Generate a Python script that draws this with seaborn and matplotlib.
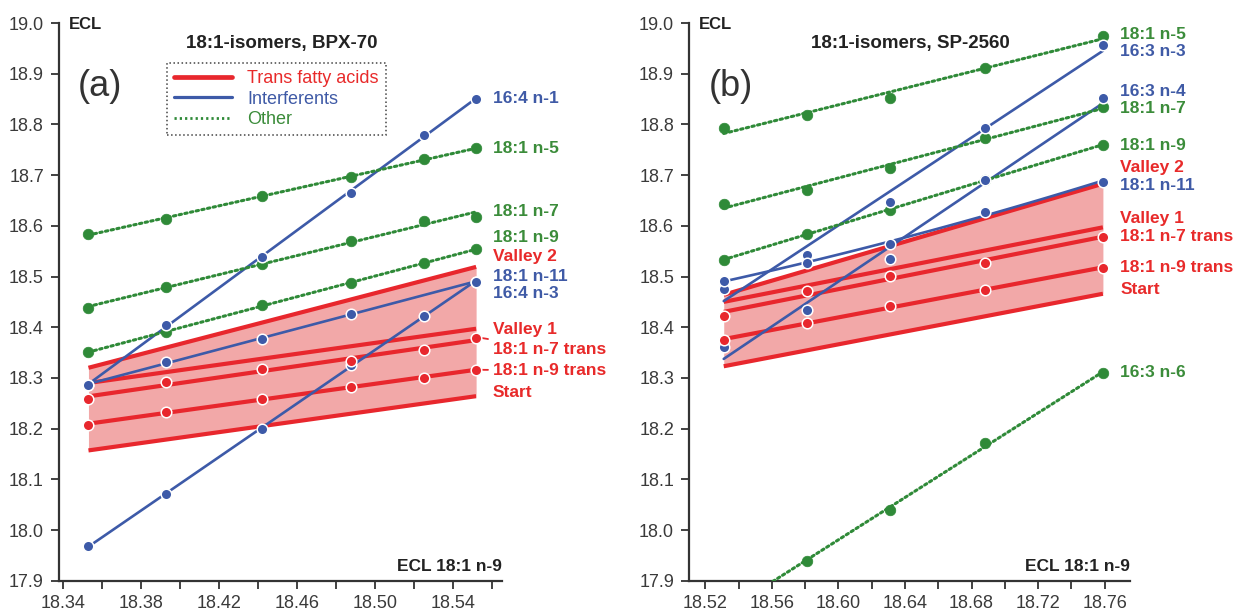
import numpy as np
import matplotlib
matplotlib.use("Agg")
import matplotlib.pyplot as plt
import seaborn as sns
from matplotlib.ticker import FixedLocator, FormatStrFormatter, NullFormatter
from matplotlib.lines import Line2D

# ---------------- data: panel (a) BPX-70 ----------------
xa = [18.353, 18.393, 18.442, 18.488, 18.525, 18.552]          # ECL 18:1 n-9
a_n5 = [18.584, 18.614, 18.658, 18.696, 18.732, 18.753]
a_n7 = [18.438, 18.479, 18.525, 18.571, 18.610, 18.618]
a_n9 = [18.351, 18.391, 18.443, 18.488, 18.526, 18.554]
a_164n1 = [18.287, 18.405, 18.538, 18.665, 18.780, 18.851]
a_181n11 = [18.287, 18.331, 18.377, 18.427, np.nan, 18.490]
a_164n3 = [17.968, 18.072, 18.200, 18.325, 18.423, 18.490]
a_n7t = [18.259, 18.292, 18.317, 18.334, 18.355, 18.379]
a_n9t = [18.208, 18.232, 18.259, 18.283, 18.300, 18.316]
a_valley2 = [18.320, 18.519]   # at first / last temperature
a_valley1 = [18.290, 18.397]
a_start = [18.157, 18.264]

# ---------------- data: panel (b) SP-2560 ----------------
xb = [18.531, 18.581, 18.631, 18.688, 18.759]
b_n5 = [18.792, 18.819, 18.852, 18.911, 18.975]
b_n7 = [18.643, 18.671, 18.715, 18.773, 18.834]
b_n9 = [18.533, 18.584, 18.632, 18.690, 18.760]
b_163n6 = [17.840, 17.939, 18.039, 18.172, 18.310]
b_163n3 = [18.476, 18.543, 18.647, 18.793, 18.957]
b_163n4 = [18.361, 18.433, 18.535, 18.690, 18.852]
b_181n11 = [18.492, 18.527, 18.564, 18.627, 18.687]
b_n7t = [18.422, 18.471, 18.502, 18.526, 18.578]
b_n9t = [18.375, 18.408, 18.441, 18.474, 18.517]
b_valley2 = [18.464, 18.683]
b_valley1 = [18.450, 18.597]
b_start = [18.323, 18.466]

# ---------------- labels ----------------
a_labels = ["16:4 n-1", "18:1 n-5", "18:1 n-7", "18:1 n-9", "Valley 2", "18:1 n-11",
            "16:4 n-3", "Valley 1", "18:1 n-7 trans", "18:1 n-9 trans", "Start"]
a_label_y = [18.851, 18.753, 18.628, 18.576, 18.539, 18.501, 18.467, 18.395, 18.357, 18.315, 18.271]
a_label_c = ["b", "g", "g", "g", "r", "b", "b", "r", "r", "r", "r"]

b_labels = ["18:1 n-5", "16:3 n-3", "16:3 n-4", "18:1 n-7", "18:1 n-9", "Valley 2", "18:1 n-11",
            "Valley 1", "18:1 n-7 trans", "18:1 n-9 trans", "Start", "16:3 n-6"]
b_label_y = [18.977, 18.944, 18.865, 18.831, 18.759, 18.716, 18.680, 18.614, 18.578, 18.517, 18.474, 18.310]
b_label_c = ["g", "b", "b", "g", "g", "r", "b", "r", "r", "r", "r", "g"]

legend_labels = ["Trans fatty acids", "Interferents", "Other"]
yticks = [17.9, 18.0, 18.1, 18.2, 18.3, 18.4, 18.5, 18.6, 18.7, 18.8, 18.9, 19.0]
a_xmajor = [18.34, 18.38, 18.42, 18.46, 18.50, 18.54]
a_xminor = [18.36, 18.40, 18.44, 18.48, 18.52, 18.56]
b_xmajor = [18.52, 18.56, 18.60, 18.64, 18.68, 18.72, 18.76]
b_xminor = [18.54, 18.58, 18.62, 18.66, 18.70, 18.74]

# ---------------- style ----------------
sns.set_style("ticks")
plt.rcParams['font.family'] = ['Liberation Sans', 'DejaVu Sans']

RED = '#e8272d'
BLUE = '#3d5aa8'
GREEN = '#2f8a38'
FILL = '#f2a8a8'
TXT = {'r': '#e82a2a', 'b': '#3f5aa6', 'g': '#3b8c3a'}
AXC = '#333333'

fig = plt.figure(figsize=(12.42, 6.14), dpi=100)
fig.patch.set_facecolor('white')
axA = fig.add_axes([0.0477, 0.0542, 0.3565, 0.9083])
axB = fig.add_axes([0.5550, 0.0542, 0.3551, 0.9083])


def fit(ax, x, y, color, kind, order=1):
    if kind == 'r':
        kw = dict(lw=3.0, zorder=3, solid_capstyle='butt')
    elif kind == 'b':
        kw = dict(lw=1.9, zorder=4)
    else:
        kw = dict(lw=2.2, ls=(0, (0.8, 1.1)), zorder=4, dash_capstyle='round')
    sns.regplot(x=np.array(x), y=np.array(y), ax=ax, scatter=False, ci=None,
                truncate=True, order=order, color=color, line_kws=kw)


def pts(ax, x, y, color, white_edge=True):
    sns.scatterplot(x=np.array(x), y=np.array(y), ax=ax, color=color, s=58,
                    edgecolor='white' if white_edge else color,
                    linewidth=1.1 if white_edge else 0.5, zorder=6, legend=False)


def panel(ax, x, reds, valley2, valley1, start, blues, greens, xlim, xmajor, xminor,
          labels, label_y, label_c, label_x, title, title_x, letter, letter_x, leaders=False):
    x0, x1 = x[0], x[-1]
    ax.fill_between([x0, x1], start, valley2, color=FILL, lw=0, zorder=1)
    for v in (valley2, valley1, start):
        ax.plot([x0, x1], v, color=RED, lw=3.0, zorder=3, solid_capstyle='butt')
    for y in reds:
        fit(ax, x, y, RED, 'r')
    for y, order in blues:
        fit(ax, x, y, BLUE, 'b', order)
    for y in greens:
        fit(ax, x, y, GREEN, 'g')
    for y in greens:
        pts(ax, x, y, GREEN, white_edge=False)
    for y, _ in blues:
        pts(ax, x, y, BLUE)
    for y in reds:
        pts(ax, x, y, RED)

    ax.set_xlim(*xlim)
    ax.set_ylim(17.9, 19.0)
    ax.xaxis.set_major_locator(FixedLocator(xmajor))
    ax.xaxis.set_minor_locator(FixedLocator(xminor))
    ax.xaxis.set_major_formatter(FormatStrFormatter('%.2f'))
    ax.xaxis.set_minor_formatter(NullFormatter())
    ax.yaxis.set_major_locator(FixedLocator(yticks))
    ax.yaxis.set_major_formatter(FormatStrFormatter('%.1f'))
    ax.tick_params(axis='both', which='both', direction='out', length=6, width=1.3,
                   color=AXC, labelcolor='#3a3a3a', labelsize=13)
    ax.tick_params(axis='x', which='major', pad=4)
    ax.tick_params(axis='y', which='major', pad=5)
    sns.despine(ax=ax)
    for s in ('left', 'bottom'):
        ax.spines[s].set_linewidth(1.6)
        ax.spines[s].set_color(AXC)
    ax.set_xlabel('')
    ax.set_ylabel('')

    for lab, ly, lc in zip(labels, label_y, label_c):
        if leaders and lab in ("18:1 n-7 trans", "18:1 n-9 trans"):
            src = reds[0] if "n-7" in lab else reds[1]
            ax.annotate(lab, xy=(x1 + 0.0025, src[-1]), xytext=(label_x, ly),
                        ha='left', va='center', color=TXT[lc], fontsize=12.5, fontweight='bold',
                        arrowprops=dict(arrowstyle='-', color=RED, lw=1.3, shrinkA=1, shrinkB=0))
        else:
            ax.text(label_x, ly, lab, ha='left', va='center', color=TXT[lc],
                    fontsize=12.5, fontweight='bold')

    ax.text(title_x, 18.960, title, ha='center', va='center', fontsize=13.5,
            fontweight='bold', color='#222222')
    ax.text(letter_x, 18.875, letter, ha='center', va='center', fontsize=26, color='#333333')
    ax.text(0.022, 0.997, "ECL", transform=ax.transAxes, ha='left', va='center',
            fontsize=12, fontweight='bold', color='#222222')
    ax.text(1.0, 0.026, "ECL 18:1 n-9", transform=ax.transAxes, ha='right', va='center',
            fontsize=12.5, fontweight='bold', color='#222222')


panel(axA, xa, [a_n7t, a_n9t], a_valley2, a_valley1, a_start,
      [(a_164n1, 1), (a_181n11, 1), (a_164n3, 1)], [a_n5, a_n7, a_n9],
      (18.338, 18.5653), a_xmajor, a_xminor, a_labels, a_label_y, a_label_c, 18.5605,
      "18:1-isomers, BPX-70", 18.452, "(a)", 18.359, leaders=True)

panel(axB, xb, [b_n7t, b_n9t], b_valley2, b_valley1, b_start,
      [(b_163n3, 1), (b_163n4, 1), (b_181n11, 2)], [b_n5, b_n7, b_n9, b_163n6],
      (18.5103, 18.7755), b_xmajor, b_xminor, b_labels, b_label_y, b_label_c, 18.7695,
      "18:1-isomers, SP-2560", 18.643, "(b)", 18.535)

# legend in panel (a)
handles = [Line2D([], [], color=RED, lw=3.4),
           Line2D([], [], color=BLUE, lw=2.3),
           Line2D([], [], color=GREEN, lw=2.0, ls=(0, (0.8, 1.1)))]
leg = axA.legend(handles, legend_labels, loc='upper left', bbox_to_anchor=(0.2426, 0.9288),
                 borderaxespad=0, fontsize=13, handlelength=3.2, handletextpad=0.85,
                 labelspacing=0.2, borderpad=0.4, fancybox=False, framealpha=1)
frame = leg.get_frame()
frame.set_linestyle(':')
frame.set_edgecolor('#444444')
frame.set_linewidth(1.1)
for t, c in zip(leg.get_texts(), [TXT['r'], TXT['b'], TXT['g']]):
    t.set_color(c)

fig.savefig('out.png', dpi=100, facecolor='white')
